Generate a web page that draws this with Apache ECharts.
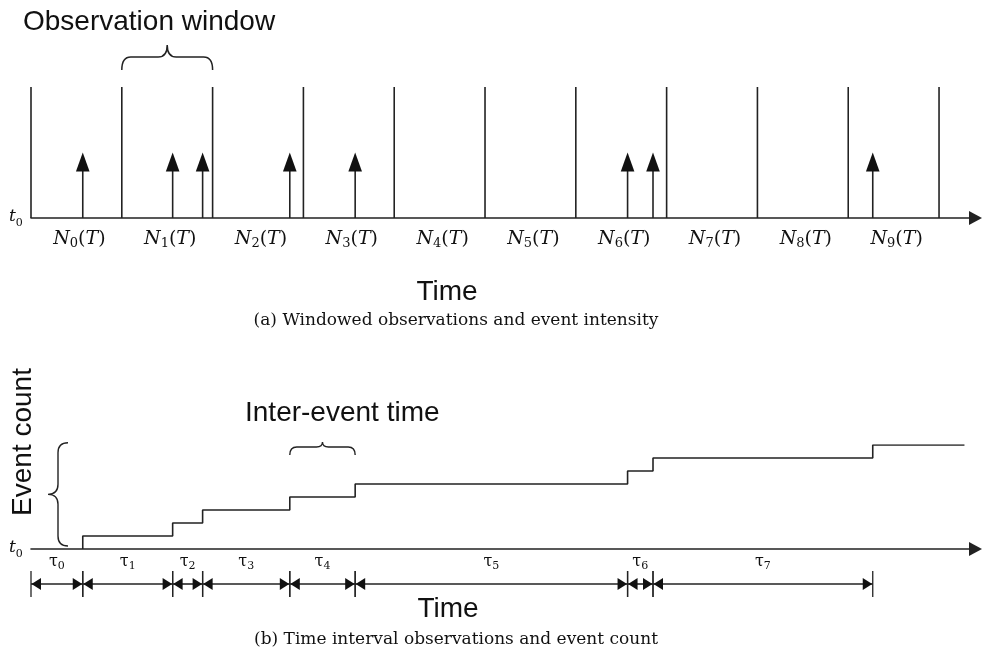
<!DOCTYPE html>
<html><head><meta charset="utf-8">
<script src="https://cdn.jsdelivr.net/npm/echarts@6/dist/echarts.min.js"></script>
<style>html,body{margin:0;padding:0;background:#fff}#c{width:982px;height:658px}</style>
</head><body><div id="c"></div>
<script>
// ---- data ----
const windowBounds = [0, 1, 2, 3, 4, 5, 6, 7, 8, 9, 10];          // window edges (units of T)
const windowIndex = ['0', '1', '2', '3', '4', '5', '6', '7', '8', '9']; // N_i(T)
const eventTimes = [0.57, 1.56, 1.89, 2.85, 3.57, 6.57, 6.85, 9.27]; // event times (units of T)
const eventCounts = [1, 2, 3, 4, 5, 6, 7, 8];
const eventArrowHeight = 0.5;
const countEndTime = 10.28;
const tauIndex = ['0', '1', '2', '3', '4', '5', '6', '7'];
const observedBrace = [1, 2];           // window highlighted by brace
const interEventBrace = [3, 4];         // event indices spanned by brace
const xMax = 10.33;

const INK = '#222';
const TXT = '#111';
const SANS = '"Liberation Sans", Arial, sans-serif';
const SERIF = '"DejaVu Serif", serif';

// step points derived from event times / counts
const stepPoints = [];
eventTimes.forEach((t, i) => {
  stepPoints.push([t, i === 0 ? 0 : eventCounts[i - 1]]);
  stepPoints.push([t, eventCounts[i]]);
});
stepPoints.push([countEndTime, eventCounts[eventCounts.length - 1]]);

const tauBounds = [0].concat(eventTimes);
const tauData = tauIndex.map((s, i) => [tauBounds[i], tauBounds[i + 1], i]);

function hBrace(x1, x2, yEnd, yLine, yTip, r, rt) {
  const xm = (x1 + x2) / 2;
  return `M${x1},${yEnd} Q${x1},${yLine} ${x1 + r},${yLine} L${xm - rt},${yLine} Q${xm},${yLine} ${xm},${yTip} Q${xm},${yLine} ${xm + rt},${yLine} L${x2 - r},${yLine} Q${x2},${yLine} ${x2},${yEnd}`;
}
function vBrace(y1, y2, xEnd, xLine, xTip, r) {
  const ym = (y1 + y2) / 2;
  return `M${xEnd},${y1} Q${xLine},${y1} ${xLine},${y1 + r} L${xLine},${ym - r} Q${xLine},${ym} ${xTip},${ym} Q${xLine},${ym} ${xLine},${ym + r} L${xLine},${y2 - r} Q${xLine},${y2} ${xEnd},${y2}`;
}

const lineStyle = { stroke: INK, lineWidth: 1.6 };

const chart = echarts.init(document.getElementById('c'), null, { renderer: 'canvas' });

const xAxisCommon = {
  type: 'value', min: 0, max: xMax,
  axisLine: { show: true, symbol: ['none', 'triangle'], symbolSize: [14, 13], symbolOffset: [0, 6.5],
              lineStyle: { color: INK, width: 1.6 } },
  axisTick: { show: false }, axisLabel: { show: false }, splitLine: { show: false }
};

function gtext(x, y, text, font, align, extra) {
  return Object.assign({ type: 'text', x: x, y: y, style: { text: text, font: font, fill: TXT, align: align, textAlign: align, verticalAlign: 'middle', textVerticalAlign: 'middle' } }, extra || {});
}

chart.setOption({
  animation: false,
  backgroundColor: '#fff',
  grid: [
    { left: 31, top: 87, width: 938, height: 131 },
    { left: 31, top: 445, width: 938, height: 104 }
  ],
  xAxis: [
    Object.assign({ gridIndex: 0 }, xAxisCommon),
    Object.assign({ gridIndex: 1 }, xAxisCommon)
  ],
  yAxis: [
    { gridIndex: 0, type: 'value', min: 0, max: 1, show: false },
    { gridIndex: 1, type: 'value', min: 0, max: 8, show: false }
  ],
  graphic: [
    gtext(23, 22.5, 'Observation window', '28px ' + SANS, 'left'),
    gtext(447, 292.5, 'Time', '28px ' + SANS, 'center'),
    gtext(456, 321, '(a) Windowed observations and event intensity', '17px ' + SERIF, 'center'),
    gtext(245, 413, 'Inter-event time', '28px ' + SANS, 'left'),
    gtext(23.5, 442, 'Event count', '28px ' + SANS, 'center', { rotation: Math.PI / 2 }),
    gtext(448, 609.5, 'Time', '28px ' + SANS, 'center'),
    gtext(456, 640, '(b) Time interval observations and event count', '17px ' + SERIF, 'center')
  ],
  series: [
    // window boundary lines
    {
      type: 'custom', xAxisIndex: 0, yAxisIndex: 0,
      data: windowBounds.map(b => [b]),
      renderItem: function (params, api) {
        const p0 = api.coord([api.value(0), 0]);
        const p1 = api.coord([api.value(0), 1]);
        return { type: 'line', shape: { x1: p0[0], y1: p0[1], x2: p1[0], y2: p1[1] }, style: lineStyle };
      }
    },
    // event arrows
    {
      type: 'custom', xAxisIndex: 0, yAxisIndex: 0,
      data: eventTimes.map(t => [t, eventArrowHeight]),
      renderItem: function (params, api) {
        const b = api.coord([api.value(0), 0]);
        const tp = api.coord([api.value(0), api.value(1)]);
        const hl = 19, hw = 6.8;
        return {
          type: 'group', children: [
            { type: 'line', shape: { x1: b[0], y1: b[1], x2: tp[0], y2: tp[1] + hl - 1 }, style: lineStyle },
            { type: 'polygon', shape: { points: [[tp[0], tp[1]], [tp[0] - hw, tp[1] + hl], [tp[0] + hw, tp[1] + hl]] }, style: { fill: '#111' } }
          ]
        };
      }
    },
    // N_i(T) labels
    {
      type: 'custom', xAxisIndex: 0, yAxisIndex: 0,
      data: windowIndex.map((s, i) => [(windowBounds[i] + windowBounds[i + 1]) / 2, i]),
      renderItem: function (params, api) {
        const p = api.coord([api.value(0), 0]);
        const s = windowIndex[api.value(1)];
        return {
          type: 'text', x: p[0] + 3, y: p[1] + 21.5,
          style: {
            text: '{n|N}{s|' + s + '}{p|(}{n|T}{p|)}',
            align: 'center', textAlign: 'center', verticalAlign: 'middle', textVerticalAlign: 'middle',
            rich: {
              n: { font: 'italic 19px ' + SERIF, fill: TXT, lineHeight: 22 },
              p: { font: '19px ' + SERIF, fill: TXT, lineHeight: 22 },
              s: { font: '13px ' + SERIF, fill: TXT, lineHeight: 6, verticalAlign: 'bottom' }
            }
          }
        };
      }
    },
    // t0 labels
    {
      type: 'custom', xAxisIndex: 0, yAxisIndex: 0,
      data: [[0, 0]],
      renderItem: function (params, api) {
        const p = api.coord([0, 0]);
        return {
          type: 'text', x: p[0] - 22, y: p[1] - 1,
          style: {
            text: '{t|t}{s|0}', align: 'left', textAlign: 'left', verticalAlign: 'middle', textVerticalAlign: 'middle',
            rich: {
              t: { font: 'italic 17px ' + SERIF, fill: TXT, lineHeight: 24 },
              s: { font: '11px ' + SERIF, fill: TXT, lineHeight: 6, verticalAlign: 'bottom' }
            }
          }
        };
      }
    },
    {
      type: 'custom', xAxisIndex: 1, yAxisIndex: 1,
      data: [[0, 0]],
      renderItem: function (params, api) {
        const p = api.coord([0, 0]);
        return {
          type: 'text', x: p[0] - 22, y: p[1] - 1,
          style: {
            text: '{t|t}{s|0}', align: 'left', textAlign: 'left', verticalAlign: 'middle', textVerticalAlign: 'middle',
            rich: {
              t: { font: 'italic 17px ' + SERIF, fill: TXT, lineHeight: 24 },
              s: { font: '11px ' + SERIF, fill: TXT, lineHeight: 6, verticalAlign: 'bottom' }
            }
          }
        };
      }
    },
    // observation window brace
    {
      type: 'custom', xAxisIndex: 0, yAxisIndex: 0,
      data: [observedBrace],
      renderItem: function (params, api) {
        const a = api.coord([api.value(0), 1]);
        const b = api.coord([api.value(1), 1]);
        return { type: 'path', shape: { pathData: hBrace(a[0], b[0], a[1] - 17, a[1] - 30, a[1] - 42, 9, 9) }, style: { fill: 'none', stroke: INK, lineWidth: 1.5 } };
      }
    },
    // event count step line
    {
      type: 'line', xAxisIndex: 1, yAxisIndex: 1,
      data: stepPoints, showSymbol: false, symbol: 'none',
      lineStyle: { color: INK, width: 1.6 }
    },
    // inter-event brace
    {
      type: 'custom', xAxisIndex: 1, yAxisIndex: 1,
      data: [[eventTimes[interEventBrace[0]], eventTimes[interEventBrace[1]]]],
      renderItem: function (params, api) {
        const top = eventCounts[eventCounts.length - 1];
        const a = api.coord([api.value(0), top]);
        const b = api.coord([api.value(1), top]);
        return { type: 'path', shape: { pathData: hBrace(a[0], b[0], a[1] + 10, a[1] + 2, a[1] - 3, 7, 6) }, style: { fill: 'none', stroke: INK, lineWidth: 1.4 } };
      }
    },
    // event count brace (vertical)
    {
      type: 'custom', xAxisIndex: 1, yAxisIndex: 1,
      data: [[0, eventCounts[eventCounts.length - 1]]],
      renderItem: function (params, api) {
        const lo = api.coord([0, api.value(0)]);
        const hi = api.coord([0, api.value(1)]);
        return { type: 'path', shape: { pathData: vBrace(hi[1] - 2.3, lo[1] - 3, lo[0] + 37, lo[0] + 27, lo[0] + 17, 10) }, style: { fill: 'none', stroke: INK, lineWidth: 1.4 } };
      }
    },
    // tau interval arrows
    {
      type: 'custom', xAxisIndex: 1, yAxisIndex: 1,
      data: tauData,
      renderItem: function (params, api) {
        const a = api.coord([api.value(0), 0]);
        const b = api.coord([api.value(1), 0]);
        const y = a[1] + 35;
        const L = 10, H = 6;
        const s = tauIndex[api.value(2)];
        return {
          type: 'group', children: [
            { type: 'line', shape: { x1: a[0], y1: y, x2: b[0], y2: y }, style: lineStyle },
            { type: 'line', shape: { x1: a[0], y1: a[1] + 22, x2: a[0], y2: a[1] + 48 }, style: { stroke: INK, lineWidth: 1.3 } },
            { type: 'line', shape: { x1: b[0], y1: a[1] + 22, x2: b[0], y2: a[1] + 48 }, style: { stroke: INK, lineWidth: 1.3 } },
            { type: 'polygon', shape: { points: [[a[0] + 0.5, y], [a[0] + L, y - H], [a[0] + L, y + H]] }, style: { fill: '#111' } },
            { type: 'polygon', shape: { points: [[b[0] - 0.5, y], [b[0] - L, y - H], [b[0] - L, y + H]] }, style: { fill: '#111' } },
            {
              type: 'text', x: (a[0] + b[0]) / 2, y: a[1] + 13,
              style: {
                text: '{t|τ}{s|' + s + '}', align: 'center', textAlign: 'center', verticalAlign: 'middle', textVerticalAlign: 'middle',
                rich: {
                  t: { font: '16px ' + SERIF, fill: TXT, lineHeight: 20 },
                  s: { font: '11px ' + SERIF, fill: TXT, lineHeight: 10, verticalAlign: 'bottom' }
                }
              }
            }
          ]
        };
      }
    }
  ]
});
</script>
</body></html>
